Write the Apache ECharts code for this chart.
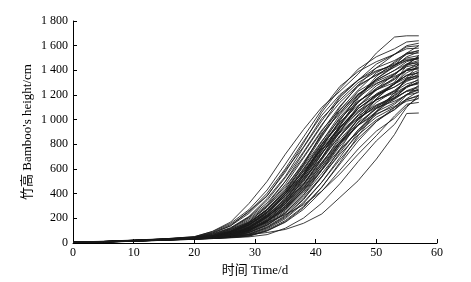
<!DOCTYPE html>
<html><head><meta charset="utf-8">
<script src="https://cdn.jsdelivr.net/npm/echarts@6/dist/echarts.min.js"></script>
<style>html,body{margin:0;padding:0;background:#fff}#c{width:471px;height:282px}</style>
</head><body><div id="c"></div>
<script>
const days = [0,5,10,15,20,23,26,29,32,35,38,41,44,47,50,53,55,57];
const xTicks = [0,10,20,30,40,50,60];
const yTicks = [0,200,400,600,800,1000,1200,1400,1600,1800];
const heights = [
[8,14,24,34,50,95,170,320,500,720,920,1100,1230,1370,1540,1670,1680,1680],
[6,12,22,32,45,78,140,240,385,575,810,1060,1250,1410,1510,1575,1630,1640],
[5,11,20,30,40,64,112,195,310,500,730,950,1180,1320,1450,1530,1590,1600],
[7,13,22,33,52,92,160,270,430,640,860,1080,1270,1390,1470,1530,1575,1580],
[5,10,19,29,42,55,92,160,265,415,630,860,1080,1240,1380,1460,1530,1560],
[4,10,18,27,38,48,75,130,225,355,550,780,990,1200,1330,1430,1510,1550],
[6,12,21,31,44,74,125,215,360,540,775,990,1190,1320,1420,1480,1535,1540],
[5,11,20,30,40,60,105,185,300,475,690,905,1110,1270,1365,1440,1500,1520],
[4,9,17,26,36,46,62,105,180,300,470,680,900,1110,1250,1370,1450,1510],
[5,10,19,28,40,50,88,148,250,400,600,820,1040,1200,1320,1400,1470,1500],
[6,12,21,31,42,70,120,210,345,530,740,960,1140,1280,1360,1425,1480,1490],
[4,10,18,27,38,44,72,125,212,340,525,745,950,1140,1275,1360,1450,1480],
[5,10,19,29,40,50,85,145,250,395,590,800,1020,1180,1290,1370,1440,1470],
[4,9,16,25,34,42,56,85,145,245,390,590,800,1010,1170,1290,1400,1460],
[5,11,20,29,38,58,100,175,290,445,655,870,1065,1200,1310,1375,1430,1450],
[4,10,18,27,36,45,70,120,205,335,510,720,935,1105,1240,1325,1410,1440],
[4,9,17,26,34,44,58,100,172,283,445,640,860,1040,1190,1290,1380,1430],
[5,10,19,28,38,46,82,140,240,385,565,785,975,1140,1255,1330,1400,1420],
[6,12,21,31,40,68,118,205,325,500,700,915,1080,1210,1295,1350,1400,1410],
[4,10,18,27,36,42,66,116,210,330,480,690,910,1090,1190,1290,1360,1400],
[3,8,16,24,32,40,50,65,115,197,321,492,695,898,1069,1220,1330,1390],
[5,10,19,28,38,54,95,164,273,428,621,827,1009,1148,1242,1301,1355,1380],
[4,9,17,26,34,42,53,95,163,271,425,617,821,1001,1140,1233,1320,1370],
[5,10,18,27,38,44,78,136,228,366,545,748,938,1091,1198,1266,1330,1360],
[4,9,17,26,36,42,63,112,192,312,478,675,872,1038,1158,1238,1310,1350],
[5,11,19,28,38,52,92,159,265,415,603,803,980,1115,1206,1264,1320,1340],
[3,8,16,25,33,40,50,76,133,223,358,533,732,918,1067,1172,1270,1330],
[5,10,18,27,38,42,75,132,222,355,529,726,911,1059,1163,1229,1290,1320],
[4,9,17,26,34,40,51,90,156,259,406,590,785,958,1090,1179,1260,1310],
[4,10,18,27,36,42,61,108,185,300,460,650,840,1000,1115,1192,1265,1300],
[5,10,19,28,38,50,89,154,255,400,581,773,943,1073,1161,1216,1270,1290],
[3,8,15,24,32,38,46,60,106,182,296,453,640,827,984,1098,1200,1280],
[4,9,17,26,36,40,60,105,180,293,450,635,820,977,1090,1165,1235,1270],
[5,10,18,27,36,40,72,126,212,339,505,693,869,1011,1110,1173,1230,1260],
[4,9,16,25,34,40,49,86,149,248,388,563,749,914,1040,1125,1205,1250],
[4,9,17,26,36,40,58,103,176,286,439,620,801,954,1064,1137,1205,1240],
[3,8,16,25,33,40,48,70,123,207,331,493,677,849,986,1084,1170,1230],
[5,10,19,28,38,48,84,145,242,378,549,731,892,1015,1098,1150,1200,1220],
[4,9,16,25,34,40,47,83,143,238,372,540,719,877,998,1080,1160,1200],
[5,10,18,27,36,38,68,119,200,320,477,655,821,954,1048,1108,1165,1190],
[3,8,15,24,32,36,44,55,98,168,273,418,590,762,907,1012,1110,1180],
[3,8,15,24,35,50,75,115,165,230,310,420,560,720,870,1030,1125,1140],
[3,7,14,22,30,38,50,68,85,110,160,235,370,505,680,880,1050,1054],
[4,9,17,26,36,44,62,110,190,317,496,720,958,1170,1331,1440,1540,1600],
[3,8,16,25,32,40,50,71,126,216,351,538,760,982,1169,1304,1440,1520],
[3,7,14,22,30,36,42,50,68,120,202,323,481,660,828,962,1100,1200],
[6,12,22,32,48,86,150,252,404,602,825,1035,1203,1322,1397,1442,1480,1500],
[3,8,15,24,32,38,45,57,100,173,287,450,653,869,1060,1206,1340,1450],
[5,10,18,27,38,50,80,150,230,400,560,800,960,1150,1240,1340,1400,1420],
[4,9,17,26,36,46,70,125,215,320,520,690,930,1060,1210,1290,1360,1380],
[5,11,20,30,40,60,110,170,300,460,640,890,1050,1230,1320,1400,1450,1460],
[4,9,17,26,35,42,60,95,175,270,430,600,810,960,1100,1200,1270,1300],
[4,10,18,27,38,46,70,128,220,350,540,770,1000,1180,1350,1470,1540,1560],
[5,10,19,28,38,52,90,150,250,380,560,760,930,1090,1200,1290,1340,1350],
[5,11,20,29,40,56,98,165,270,410,580,760,900,1030,1120,1180,1230,1240],
[6,12,22,32,46,82,140,260,380,590,780,1010,1160,1300,1390,1450,1490,1500],
[5,11,20,30,42,56,95,165,275,430,640,880,1100,1280,1420,1530,1600,1620],
[4,9,17,26,36,40,60,100,175,280,420,590,760,900,1020,1100,1150,1170]
];
const xName = '时间 Time/d';
const yName = '竹高 Bamboo\'s height/cm';

const fam = '"Liberation Serif","Times New Roman","Noto Sans CJK SC",serif';
const fmt = v => v >= 1000 ? String(v).replace(/(\d)(\d{3})$/, '$1 $2') : String(v);
const chart = echarts.init(document.getElementById('c'), null, {renderer: 'canvas'});
chart.setOption({
  animation: false,
  backgroundColor: '#fff',
  grid: {left: 73, right: 34, top: 21, bottom: 39, containLabel: false},
  xAxis: {
    type: 'value', min: xTicks[0], max: xTicks[xTicks.length-1], interval: 10,
    name: xName, nameLocation: 'middle', nameGap: 21, nameMoveOverlap: false,
    nameTextStyle: {fontFamily: fam, fontSize: 13, color: '#000'},
    axisLine: {show: true, lineStyle: {color: '#000', width: 1}},
    axisTick: {show: true, inside: true, length: 4, lineStyle: {color: '#000'}},
    axisLabel: {fontFamily: fam, fontSize: 12, color: '#000', margin: 4},
    splitLine: {show: false}
  },
  yAxis: {
    type: 'value', min: yTicks[0], max: yTicks[yTicks.length-1], interval: 200,
    name: yName, nameLocation: 'middle', nameGap: 39, nameMoveOverlap: false,
    nameTextStyle: {fontFamily: fam, fontSize: 13, color: '#000'},
    axisLine: {show: true, lineStyle: {color: '#000', width: 1}},
    axisTick: {show: true, inside: true, length: 4, lineStyle: {color: '#000'}},
    axisLabel: {fontFamily: fam, fontSize: 12, color: '#000', margin: 5, formatter: fmt},
    splitLine: {show: false}
  },
  series: heights.map(h => ({
    type: 'line', silent: true, showSymbol: false, symbol: 'none',
    data: days.map((d, i) => [d, h[i]]),
    lineStyle: {color: '#1a1a1a', width: 0.85}
  }))
});
</script></body></html>
